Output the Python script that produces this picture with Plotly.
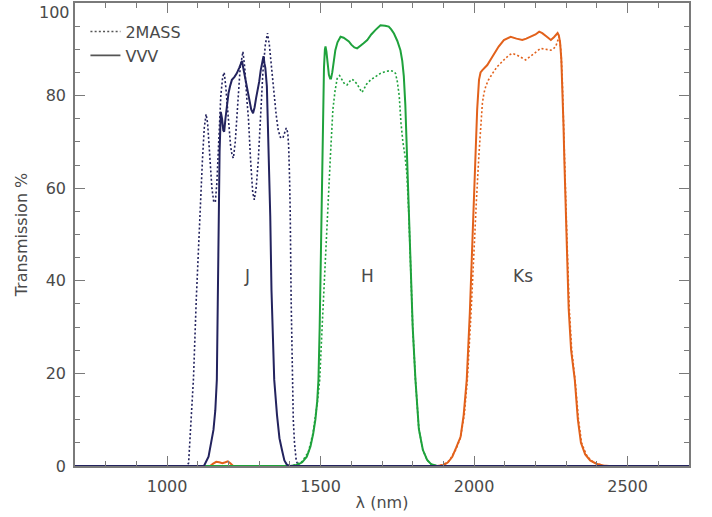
import plotly.graph_objects as go

# ---- data (wavelength nm, transmission %) ----
j2_x = [700, 1060, 1070, 1077, 1086, 1095, 1102, 1108, 1115, 1121, 1127, 1132, 1138, 1146, 1152, 1157, 1162, 1168, 1175, 1181, 1186, 1191, 1199, 1207, 1212, 1216, 1222, 1230, 1238, 1247, 1253, 1260, 1265, 1272, 1279, 1284, 1290, 1297, 1304, 1312, 1320, 1327, 1333, 1340, 1346, 1355, 1362, 1369, 1377, 1383, 1388, 1393, 1396, 1399, 1401, 1404, 1407, 1411, 1415, 1420, 1425, 1435, 2700]
j2_y = [0, 0, 0.6, 9, 19, 36, 47, 55, 66, 73, 76, 74, 68, 60, 57, 57, 61, 70, 80, 84, 85, 82, 75, 69, 67, 66.5, 70, 78, 86, 89.5, 86, 79, 75, 66, 59, 57.5, 60, 66, 75, 85, 91, 93.5, 91, 86, 82, 76, 72.5, 71, 70.8, 72, 73, 72, 69, 62, 55, 36, 19, 10, 5, 1.5, 0.3, 0, 0]

jv_x = [700, 1120, 1135, 1151, 1157, 1162, 1165, 1168, 1171, 1175, 1179, 1183, 1186, 1190, 1195, 1200, 1205, 1211, 1219, 1227, 1235, 1241, 1244, 1248, 1254, 1260, 1267, 1274, 1280, 1285, 1290, 1295, 1300, 1305, 1310, 1312, 1314, 1317, 1320, 1325, 1329, 1333, 1336, 1340, 1345, 1349, 1358, 1366, 1374, 1382, 1390, 1400, 2700]
jv_y = [0, 0, 2, 7.8, 12, 18.6, 35, 54, 68, 76.5, 75, 72.5, 72.2, 75, 78.5, 80.5, 82, 83.4, 84, 84.8, 86, 87.2, 87.5, 86, 84, 82, 79, 77, 76.2, 77.5, 79.5, 81, 83, 85.5, 87.5, 88.5, 88.5, 87, 86, 82, 72, 62, 54, 38, 25, 18.6, 11, 6, 3.5, 1.2, 0.3, 0, 0]

h2_x = [700, 1400, 1420, 1440, 1460, 1475, 1490, 1497, 1505, 1513, 1520, 1527, 1532, 1536, 1540, 1547, 1554, 1562, 1570, 1578, 1586, 1594, 1600, 1606, 1612, 1619, 1627, 1635, 1642, 1650, 1663, 1680, 1695, 1710, 1728, 1738, 1744, 1750, 1756, 1762, 1768, 1775, 1781, 1787, 1793, 1800, 1809, 1820, 1833, 1847, 1860, 1880, 2700]
h2_y = [0, 0, 0.3, 1, 3, 7, 14, 18.6, 30, 42, 52, 60, 67, 72, 77, 81, 83.7, 84.3, 83.5, 82.5, 82.3, 83, 83.5, 83.4, 83, 82.5, 81.5, 80.7, 81.5, 82.5, 83.4, 84.2, 84.8, 85.2, 85.4, 85.2, 84.8, 83, 80, 74, 70, 67, 63, 55, 43, 30, 18.6, 8, 3.5, 1.3, 0.4, 0, 0]

hv_x = [700, 1400, 1423, 1440, 1455, 1467, 1476, 1483, 1489, 1493, 1497, 1501, 1504, 1506, 1508, 1511, 1514, 1516, 1519, 1523, 1527, 1531, 1534, 1538, 1542, 1548, 1555, 1565, 1575, 1585, 1592, 1600, 1610, 1619, 1628, 1640, 1652, 1665, 1679, 1695, 1710, 1722, 1730, 1739, 1750, 1760, 1766, 1771, 1776, 1780, 1787, 1793, 1800, 1809, 1820, 1833, 1847, 1860, 1880, 2700]
hv_y = [0, 0, 0.2, 0.8, 2, 4.2, 7, 10, 14, 18.6, 30, 45, 56, 66, 78, 86, 90, 90.6, 89.5, 86.5, 84.5, 83.7, 83.7, 85, 87.5, 89.8, 91.5, 92.7, 92.5, 92, 91.7, 91, 90.4, 90.2, 90.6, 91.3, 92, 93.2, 94.2, 95.2, 95.1, 94.9, 94.3, 93.4, 91.8, 89.8, 87.5, 84.2, 78, 70, 57, 43, 30, 18.6, 8, 3.5, 1.3, 0.4, 0, 0]

k2_x = [700, 1880, 1900, 1920, 1940, 1955, 1968, 1978, 1990, 2000, 2008, 2016, 2022, 2027, 2032, 2038, 2046, 2054, 2065, 2076, 2090, 2103, 2115, 2124, 2138, 2152, 2160, 2168, 2178, 2190, 2205, 2217, 2225, 2233, 2242, 2250, 2258, 2266, 2272, 2277, 2280, 2283, 2287, 2291, 2296, 2302, 2310, 2318, 2329, 2340, 2350, 2365, 2380, 2400, 2420, 2440, 2700]
k2_y = [0, 0, 0.3, 1.2, 3.5, 6, 11, 18.6, 33, 48, 58, 67.5, 74, 78.4, 80.5, 82, 83.3, 84.2, 85.3, 86.3, 87.3, 88.1, 88.8, 89.1, 88.8, 88.4, 88, 87.7, 88.2, 88.8, 89.6, 90.2, 90.1, 90, 89.9, 89.8, 90.1, 90.6, 91.8, 92.7, 91.5, 89.5, 84, 74, 66, 50, 34, 25, 18.6, 10, 5, 2.5, 1.2, 0.5, 0.1, 0, 0]

kv_x = [700, 1140, 1150, 1160, 1170, 1180, 1190, 1198, 1206, 1215, 1880, 1901, 1915, 1929, 1942, 1956, 1966, 1976, 1986, 1995, 2001, 2005, 2010, 2016, 2021, 2027, 2035, 2043, 2054, 2065, 2080, 2097, 2108, 2119, 2138, 2157, 2170, 2185, 2200, 2212, 2222, 2235, 2250, 2260, 2268, 2272, 2276, 2280, 2284, 2288, 2291, 2294, 2300, 2308, 2316, 2328, 2338, 2348, 2362, 2378, 2398, 2420, 2440, 2700]
kv_y = [0, 0, 0.5, 0.9, 0.8, 0.6, 0.8, 1.0, 0.6, 0, 0, 0.2, 0.8, 2, 4, 6.3, 11, 18.6, 33, 50, 60, 67.5, 77, 83.4, 85, 85.5, 86, 86.6, 87.8, 89.1, 90.6, 92, 92.4, 92.7, 92.3, 92, 92.3, 92.7, 93.2, 93.8, 93.5, 92.8, 92, 92.6, 93.2, 93.5, 93, 91.5, 88, 82, 74, 66, 50, 34, 25, 18.6, 10, 5, 2.5, 1.2, 0.5, 0.1, 0, 0]

band_names = ["J", "H", "Ks"]
band_label_x = [1261, 1653, 2158]
band_label_y = [41, 41, 41]

x_ticks = [1000, 1500, 2000, 2500]
y_ticks = [0, 20, 40, 60, 80, 100]
y_ticktext = ["0", "20", "40", "60", "80", ""]  # top label "100" drawn just below the frame edge

NAVY = "#23235e"
GREEN = "#1fa23c"
ORANGE = "#e2611b"
GRAY = "#7a7a7a"
TXT = "#4a4a4a"
FONT = "DejaVu Sans"
DOT = "2px,2.2px"

fig = go.Figure()
for xs, ys, col, dotted in [
    (j2_x, j2_y, NAVY, True), (h2_x, h2_y, GREEN, True), (k2_x, k2_y, ORANGE, True),
    (kv_x, kv_y, ORANGE, False), (hv_x, hv_y, GREEN, False), (jv_x, jv_y, NAVY, False),
]:
    fig.add_trace(go.Scatter(
        x=xs, y=ys, mode="lines", showlegend=False, hoverinfo="skip",
        line=dict(color=col, width=1.6 if dotted else 2.0, dash=DOT if dotted else "solid"),
    ))

# legend entries (gray samples as in the original)
fig.add_trace(go.Scatter(x=[None], y=[None], mode="lines", name="2MASS",
                         line=dict(color="#555555", width=1.5, dash=DOT)))
fig.add_trace(go.Scatter(x=[None], y=[None], mode="lines", name="VVV",
                         line=dict(color="#555555", width=1.8)))

for name, lx, ly in zip(band_names, band_label_x, band_label_y):
    fig.add_annotation(x=lx, y=ly, text=name, showarrow=False,
                       font=dict(family=FONT, size=17, color=TXT))

fig.add_annotation(xref="paper", yref="y", x=0, y=y_ticks[-1], text=str(y_ticks[-1]),
                   showarrow=False, xanchor="right", yanchor="top", xshift=-3, yshift=2,
                   font=dict(family=FONT, size=16, color=TXT))

axis_common = dict(
    showline=True, linecolor=GRAY, linewidth=1.5, mirror="ticks",
    ticks="inside", tickcolor=GRAY, tickwidth=1.3, ticklen=10,
    showgrid=False, zeroline=False, automargin=False,
    ticklabeloverflow="allow",
    tickfont=dict(family=FONT, size=16, color=TXT),
)

fig.update_layout(
    width=712, height=517,
    margin=dict(l=75, r=23, t=3, b=51),
    paper_bgcolor="white", plot_bgcolor="white",
    font=dict(family=FONT, size=16, color=TXT),
    xaxis=dict(range=[700, 2700], tickvals=x_ticks,
               minor=dict(dtick=100, tick0=0, ticks="inside", ticklen=5, tickcolor=GRAY, tickwidth=1.2),
               title=dict(text="λ (nm)", font=dict(family=FONT, size=16, color=TXT), standoff=2),
               ticklabelstandoff=5,
               **axis_common),
    yaxis=dict(range=[0, 100], tickvals=y_ticks, ticktext=y_ticktext,
               minor=dict(dtick=5, tick0=0, ticks="inside", ticklen=5, tickcolor=GRAY, tickwidth=1.2),
               title=dict(text="Transmission %", font=dict(family=FONT, size=16, color=TXT), standoff=14),
               ticklabelstandoff=4,
               **axis_common),
    legend=dict(x=0.017, y=0.975, xanchor="left", yanchor="top",
                bgcolor="rgba(0,0,0,0)", borderwidth=0,
                font=dict(family=FONT, size=16, color=TXT),
                tracegroupgap=0, itemwidth=30),
)

fig.write_html("out.html", config={"displayModeBar": False},
               post_script="document.body.style.margin='0';")
